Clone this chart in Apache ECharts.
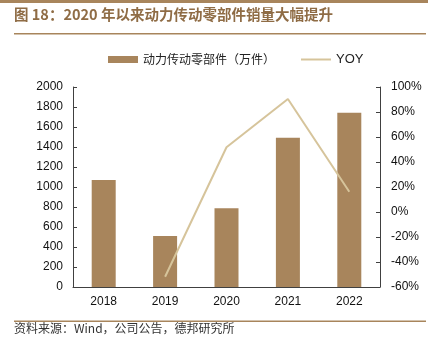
<!DOCTYPE html>
<html><head><meta charset="utf-8">
<script src="https://cdn.jsdelivr.net/npm/echarts@6/dist/echarts.min.js"></script>
<style>html,body{margin:0;padding:0;background:#fff}#c{width:434px;height:353px}</style>
</head><body><div id="c"></div>
<script>
var categories = ['2018','2019','2020','2021','2022'];
var salesValues = [1070, 510, 787, 1493, 1743];
var yoyValues = [null, -51.8, 51.8, 90.4, 16.2];
var leftTicks = [0, 200, 400, 600, 800, 1000, 1200, 1400, 1600, 1800, 2000];
var rightTicks = [-60, -40, -20, 0, 20, 40, 60, 80, 100];

var fontLatin = 'Liberation Sans, Arial, "Noto Sans CJK SC", sans-serif';
var fontCJK = '"Noto Sans CJK SC", "Liberation Sans", sans-serif';
var brown = '#a8855c';
var tan = '#d6c49b';
var axisCol = '#404040';

var chart = echarts.init(document.getElementById('c'), null, {renderer: 'canvas'});
chart.setOption({
  animation: false,
  backgroundColor: '#fff',
  graphic: [
    {type: 'rect', shape: {x: 0, y: 0, width: 428, height: 3}, style: {fill: brown}},
    {type: 'text', left: 14, top: 7, style: {text: '图 18：2020 年以来动力传动零部件销量大幅提升', fill: '#8f6c45', font: 'bold 14.5px ' + fontCJK}},
    {type: 'rect', shape: {x: 14, y: 33, width: 412, height: 1.5}, style: {fill: brown}},
    {type: 'rect', shape: {x: 14, y: 320.5, width: 412, height: 1.5}, style: {fill: brown}},
    {type: 'text', left: 14, top: 322, style: {text: '资料来源：Wind，公司公告，德邦研究所', fill: '#333', font: '12px ' + fontCJK}}
  ],
  legend: {
    left: 103, top: 48,
    itemWidth: 30, itemHeight: 7, itemGap: 26,
    textStyle: {fontSize: 12, color: '#222', fontFamily: fontCJK},
    data: [
      {name: '动力传动零部件（万件）', icon: 'rect'},
      {name: 'YOY', icon: 'path://M0,0H30V2H0Z', textStyle: {fontFamily: fontLatin, fontSize: 13}}
    ]
  },
  grid: {left: 73, right: 54, top: 87, bottom: 66},
  xAxis: {
    type: 'category', data: categories,
    axisLine: {lineStyle: {color: axisCol, width: 1}},
    axisTick: {inside: true, length: 4, lineStyle: {color: axisCol}},
    axisLabel: {color: '#111', fontSize: 12, fontFamily: fontLatin, margin: 9}
  },
  yAxis: [
    {type: 'value', min: leftTicks[0], max: leftTicks[leftTicks.length - 1], interval: 200,
     splitLine: {show: false},
     axisLine: {show: true, lineStyle: {color: axisCol}},
     axisTick: {show: true, inside: true, length: 4, lineStyle: {color: axisCol}},
     axisLabel: {color: '#111', fontSize: 12, fontFamily: fontLatin, margin: 10,
       formatter: function (v) { return String(v); }}},
    {type: 'value', min: rightTicks[0], max: rightTicks[rightTicks.length - 1], interval: 20,
     splitLine: {show: false},
     axisLine: {show: true, lineStyle: {color: axisCol}},
     axisTick: {show: true, inside: true, length: 4, lineStyle: {color: axisCol}},
     axisLabel: {color: '#111', fontSize: 12, fontFamily: fontLatin, margin: 11, formatter: '{value}%'}}
  ],
  series: [
    {name: '动力传动零部件（万件）', type: 'bar', data: salesValues, barWidth: 24,
     itemStyle: {color: brown}},
    {name: 'YOY', type: 'line', yAxisIndex: 1, data: yoyValues, showSymbol: false, symbol: 'none',
     lineStyle: {color: tan, width: 2}, itemStyle: {color: tan}}
  ]
});
</script></body></html>
